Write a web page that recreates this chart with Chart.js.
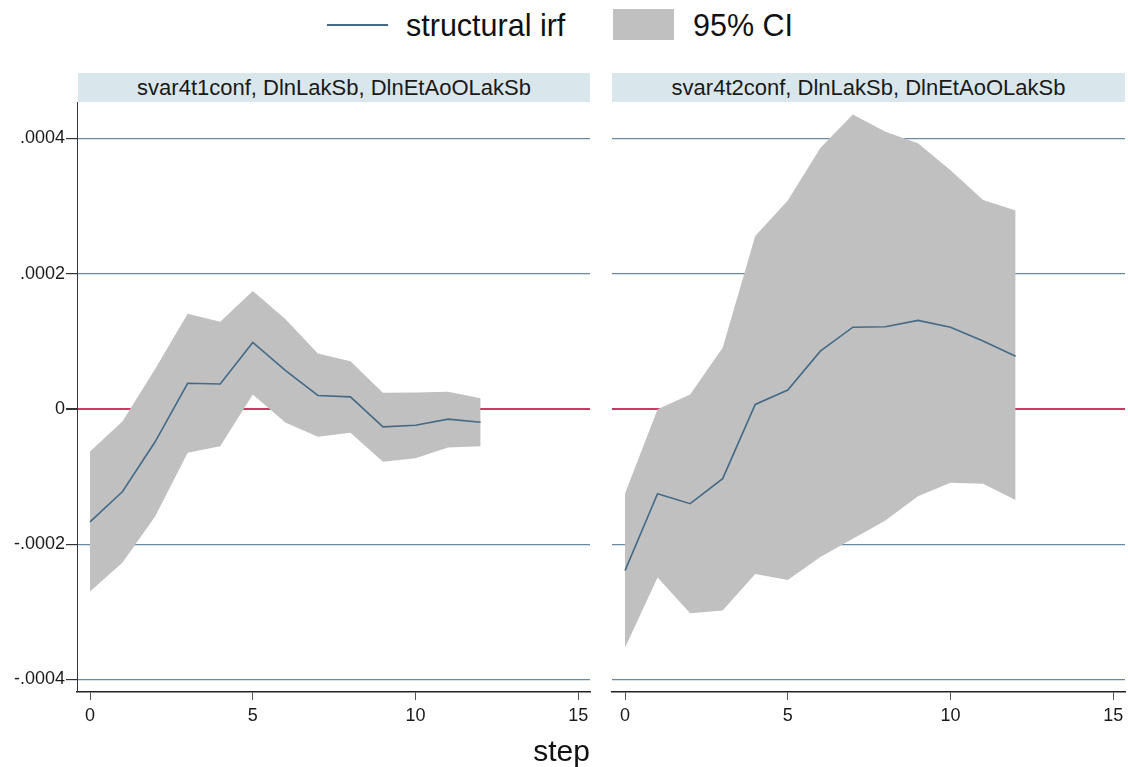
<!DOCTYPE html>
<html>
<head>
<meta charset="utf-8">
<script src="https://cdn.jsdelivr.net/npm/chart.js@4/dist/chart.umd.min.js"></script>
<style>
  body { margin: 0; background: #fff; width: 1128px; height: 767px; overflow: hidden; position: relative; font-family: "Liberation Sans", Arial, sans-serif; color: #111; }
  canvas { position: absolute; }
  .strip { position: absolute; top: 73px; height: 29px; background: #d9e6eb; font-size: 22px; line-height: 29px; text-align: center; color: #1a1a1a; }
  .leg { position: absolute; font-size: 30.5px; line-height: 30px; color: #111; }
</style>
</head>
<body>
<div style="position:absolute;left:327px;top:24px;width:61px;height:2px;background:#456a86"></div>
<div class="leg" style="left:406px;top:10px">structural irf</div>
<div style="position:absolute;left:613px;top:9px;width:61px;height:31px;background:#c0c0c0"></div>
<div class="leg" style="left:693px;top:10px">95% CI</div>

<div class="strip" style="left:78px;width:512px">svar4t1conf, DlnLakSb, DlnEtAoOLakSb</div>
<div class="strip" style="left:612px;width:513px">svar4t2conf, DlnLakSb, DlnEtAoOLakSb</div>

<canvas id="izq" width="600" height="665" style="left:0;top:102px"></canvas>
<canvas id="der" width="528" height="665" style="left:600px;top:102px"></canvas>

<div style="position:absolute;left:0;width:1123px;top:735px;text-align:center;font-size:30px;line-height:32px">step</div>

<script>
// pasos (eje x)
const pasos = [0, 1, 2, 3, 4, 5, 6, 7, 8, 9, 10, 11, 12];
const ticksX = [0, 5, 10, 15];
const ticksY = [-0.0004, -0.0002, 0, 0.0002, 0.0004];

// svar4t1conf
const irf1 = [-1.67e-4, -1.22e-4, -0.485e-4, 0.38e-4, 0.37e-4, 0.985e-4, 0.57e-4, 0.20e-4, 0.18e-4, -0.265e-4, -0.24e-4, -0.15e-4, -0.195e-4];
const sup1 = [-0.63e-4, -0.18e-4, 0.59e-4, 1.41e-4, 1.29e-4, 1.745e-4, 1.33e-4, 0.82e-4, 0.705e-4, 0.24e-4, 0.245e-4, 0.255e-4, 0.16e-4];
const inf1 = [-2.70e-4, -2.27e-4, -1.59e-4, -0.647e-4, -0.55e-4, 0.216e-4, -0.2e-4, -0.41e-4, -0.35e-4, -0.78e-4, -0.73e-4, -0.57e-4, -0.55e-4];

// svar4t2conf
const irf2 = [-2.39e-4, -1.254e-4, -1.40e-4, -1.03e-4, 0.068e-4, 0.28e-4, 0.856e-4, 1.21e-4, 1.217e-4, 1.31e-4, 1.21e-4, 1.005e-4, 0.78e-4];
const sup2 = [-1.25e-4, -0.005e-4, 0.216e-4, 0.906e-4, 2.56e-4, 3.085e-4, 3.86e-4, 4.356e-4, 4.10e-4, 3.93e-4, 3.53e-4, 3.09e-4, 2.935e-4];
const inf2 = [-3.53e-4, -2.49e-4, -3.02e-4, -2.98e-4, -2.44e-4, -2.53e-4, -2.19e-4, -1.92e-4, -1.65e-4, -1.29e-4, -1.09e-4, -1.105e-4, -1.345e-4];

const colorLinea = "#456a86";
const colorIC = "#c0c0c0";
const fuente = { family: "'Liberation Sans', Arial, sans-serif", size: 18 };

const puntos = (vals) => pasos.map((p, i) => ({ x: p, y: vals[i] }));

const formatoY = (v) => {
  if (Math.abs(v) < 1e-12) return "0";
  return v.toFixed(4).replace("0.", ".");
};

const crearGrafica = (id, irf, sup, inf, conEje) => {
  const anchoEje = conEje ? 77 : 12;
  new Chart(document.getElementById(id), {
    type: "line",
    data: {
      datasets: [
        {
          label: "structural irf",
          data: puntos(irf),
          borderColor: colorLinea,
          borderWidth: 1.6,
          pointRadius: 0,
          fill: false,
          tension: 0,
        },
        {
          label: "95% CI",
          data: puntos(sup),
          borderWidth: 0,
          borderColor: "rgba(0,0,0,0)",
          backgroundColor: colorIC,
          pointRadius: 0,
          fill: "+1",
          tension: 0,
        },
        {
          label: "inf",
          data: puntos(inf),
          borderWidth: 0,
          borderColor: "rgba(0,0,0,0)",
          pointRadius: 0,
          fill: false,
          tension: 0,
        },
      ],
    },
    options: {
      responsive: false,
      animation: false,
      devicePixelRatio: 1,
      layout: { padding: { left: 0, right: conEje ? 10 : 3, top: 0, bottom: 0 } },
      plugins: { legend: { display: false }, tooltip: { enabled: false } },
      scales: {
        x: {
          type: "linear",
          min: -0.4,
          max: 15.36,
          afterBuildTicks: (s) => { s.ticks = ticksX.map((v) => ({ value: v })); },
          afterFit: (s) => { s.height = 75; s.paddingLeft = 0; s.paddingRight = 0; },
          grid: { drawOnChartArea: false, drawTicks: true, tickLength: 8, tickColor: "#555" },
          border: { display: true, color: "#222", width: 1.5 },
          ticks: { font: fuente, color: "#1a1a1a", padding: 5, maxRotation: 0 },
        },
        y: {
          type: "linear",
          min: -0.0004185,
          max: 0.000454,
          afterBuildTicks: (s) => { s.ticks = ticksY.map((v) => ({ value: v })); },
          afterFit: (s) => { s.width = anchoEje; s.paddingTop = 0; s.paddingBottom = 0; },
          grid: {
            drawOnChartArea: true,
            drawTicks: conEje,
            tickLength: 11,
            tickColor: "#333",
            color: (ctx) => (ctx.tick && ctx.tick.value === 0 ? "#c83c64" : "#6a8aa3"),
            lineWidth: (ctx) => (ctx.tick && ctx.tick.value === 0 ? 2 : 1.2),
          },
          border: { display: conEje, color: "#333", width: 1 },
          ticks: { display: conEje, font: fuente, color: "#1a1a1a", padding: 1, callback: formatoY },
        },
      },
    },
  });
};

crearGrafica("izq", irf1, sup1, inf1, true);
crearGrafica("der", irf2, sup2, inf2, false);
</script>
</body>
</html>
